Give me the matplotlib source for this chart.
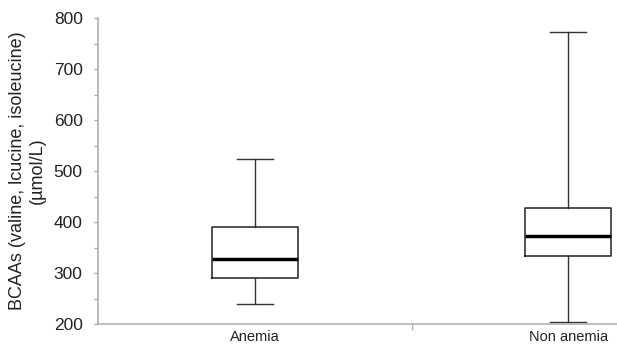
import matplotlib
matplotlib.use("Agg")
import matplotlib.pyplot as plt

categories = ["Anemia", "Non anemia"]
whislo = [240, 204]
q1 = [291, 334]
med = [328, 373]
q3 = [391, 428]
whishi = [523, 772]

yticks = [200, 300, 400, 500, 600, 700, 800]

plt.rcParams['font.family'] = ['Liberation Sans', 'DejaVu Sans']

fig = plt.figure(figsize=(6.17, 3.46), dpi=100)
ax = fig.add_axes([98/617, 1-324/346, (617-98)/617, (324-18)/346])

stats = []
for i, c in enumerate(categories):
    stats.append(dict(label=c, whislo=whislo[i], q1=q1[i], med=med[i],
                      q3=q3[i], whishi=whishi[i], fliers=[]))

ax.bxp(stats, positions=[0, 1], widths=0.274, showfliers=False,
       boxprops=dict(color='#222222', linewidth=1.1),
       whiskerprops=dict(color='#333333', linewidth=1.0),
       capprops=dict(color='#333333', linewidth=1.0),
       medianprops=dict(color='black', linewidth=2.5),
       capwidths=0.115)

ax.set_xlim(-0.5, 1.155)
ax.set_ylim(200, 800)
ax.set_yticks(yticks)
ax.set_yticks(range(250, 800, 100), minor=True)
ax.set_xticks([0, 1])
ax.set_xticklabels(categories, fontsize=10.5)
ax.set_xticks([0.5], minor=True)
ax.tick_params(axis='x', which='major', length=0, pad=4, labelcolor='#222222')
ax.tick_params(axis='x', which='minor', length=4, color='#b0b0b0', width=1)
ax.tick_params(axis='y', which='major', length=3, color='#b0b0b0', width=1, labelsize=12.5, labelcolor='#222222', pad=8)
ax.tick_params(axis='y', which='minor', length=3, color='#b0b0b0', width=1)

for s in ['top', 'right']:
    ax.spines[s].set_visible(False)
for s in ['left', 'bottom']:
    ax.spines[s].set_color('#b0b0b0')
    ax.spines[s].set_linewidth(1.2)

ax.set_ylabel("BCAAs (valine, lcucine, isoleucine)\n(µmol/L)", fontsize=13, color='#222222', labelpad=6, linespacing=1.2)

fig.savefig("out.png", dpi=100)
